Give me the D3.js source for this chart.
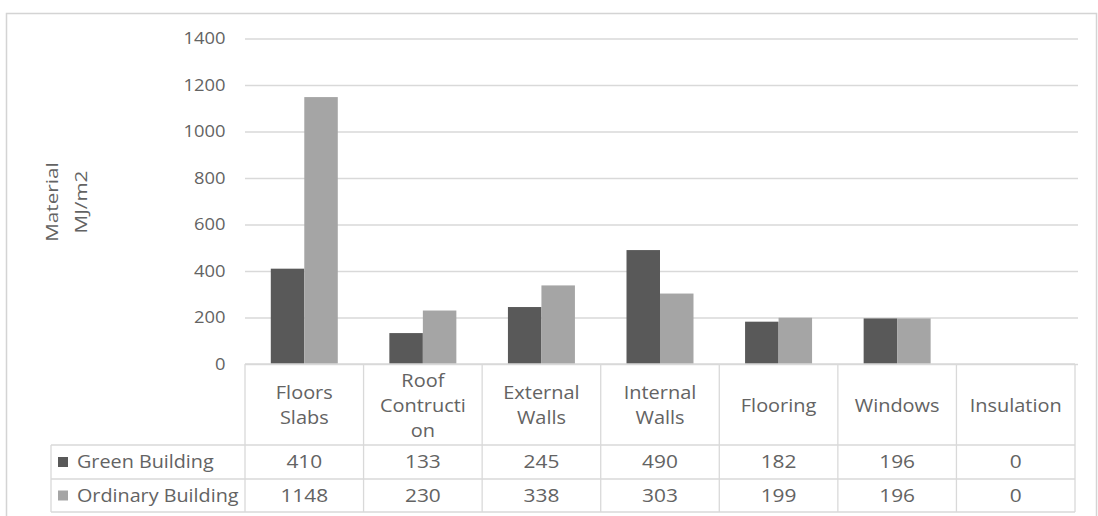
<!DOCTYPE html>
<html>
<head>
<meta charset="utf-8">
<script src="https://cdn.jsdelivr.net/npm/d3@7"></script>
<style>
  html, body { margin: 0; padding: 0; background: #fff; }
  svg { display: block; }
  text { font-family: "Open Sans", "DejaVu Sans", sans-serif; fill: #636363; }
</style>
</head>
<body>
<svg id="chart" width="1098" height="516"></svg>
<script>
// Embodied energy of building materials (MJ/m2), green vs ordinary building
const categories = ["Floors Slabs", "Roof Contruction", "External Walls", "Internal Walls", "Flooring", "Windows", "Insulation"];
const categoryLines = [["Floors", "Slabs"], ["Roof", "Contructi", "on"], ["External", "Walls"], ["Internal", "Walls"], ["Flooring"], ["Windows"], ["Insulation"]];
const seriesNames = ["Green Building", "Ordinary Building"];
const greenBuilding = [410, 133, 245, 490, 182, 196, 0];
const ordinaryBuilding = [1148, 230, 338, 303, 199, 196, 0];
const seriesColors = ["#595959", "#a5a5a5"];
const yTicks = [0, 200, 400, 600, 800, 1000, 1200, 1400];
const yTitleLines = ["Material", "MJ/m2"];

const seriesValues = [greenBuilding, ordinaryBuilding];
const svg = d3.select("#chart");
const gridColor = "#d9d9d9";
const textWiden = 1.14; // horizontal stretch of the table lettering

// Outer chart frame
svg.append("rect")
  .attr("x", 6.5).attr("y", 13.5)
  .attr("width", 1090).attr("height", 520)
  .attr("fill", "#fff").attr("stroke", "#d4d4d4").attr("stroke-width", 1.5);

const plotLeft = 245, plotRight = 1075, plotTop = 38.5, plotBottom = 364;

const x = d3.scaleBand().domain(categories).range([plotLeft, plotRight]).paddingInner(0.435).paddingOuter(0.2175);
const xCell = d3.scaleBand().domain(categories).range([plotLeft, plotRight]);
const xSeries = d3.scaleBand().domain(seriesNames).range([0, x.bandwidth()]);
const y = d3.scaleLinear().domain([0, 1400]).range([plotBottom, plotTop]);

// Horizontal gridlines with value labels
const yAxis = d3.axisLeft(y).tickValues(yTicks).tickSize(-(plotRight - plotLeft + 3)).tickPadding(18).tickFormat(d3.format("d"));
const gy = svg.append("g").attr("transform", `translate(${plotLeft},0)`).call(yAxis);
gy.select(".domain").remove();
gy.selectAll(".tick line").attr("stroke", gridColor).attr("stroke-width", 1.3);
gy.selectAll(".tick text")
  .attr("font-size", 17)
  .attr("transform", "scale(1.08,1)")
  .style("fill", "#636363").attr("font-family", null);

// Bars
const groups = svg.append("g").selectAll("g")
  .data(categories)
  .join("g")
  .attr("transform", d => `translate(${x(d)},0)`);

groups.selectAll("rect")
  .data((d, i) => seriesNames.map((s, k) => ({ s, v: seriesValues[k][i], c: seriesColors[k] })))
  .join("rect")
  .attr("x", d => xSeries(d.s))
  .attr("y", d => y(d.v))
  .attr("width", xSeries.bandwidth())
  .attr("height", d => y(0) - y(d.v))
  .attr("fill", d => d.c);

// Data table beneath the plot
const tableLeft = 51;
const headerBottom = 445, rowH = [445, 479, 512];
const table = svg.append("g").attr("stroke", gridColor).attr("stroke-width", 1.3);
table.append("line").attr("x1", plotLeft).attr("x2", plotRight).attr("y1", plotBottom).attr("y2", plotBottom);
rowH.forEach(yy => table.append("line").attr("x1", tableLeft).attr("x2", plotRight).attr("y1", yy).attr("y2", yy));
table.append("line").attr("x1", tableLeft).attr("x2", tableLeft).attr("y1", rowH[0]).attr("y2", rowH[2]);
[...categories.map(c => xCell(c)), plotRight].forEach(xx =>
  table.append("line").attr("x1", xx).attr("x2", xx).attr("y1", plotBottom).attr("y2", rowH[2]));

// Places a text at (cx, cy), stretched horizontally
function stretchedText(cx, cy, k) {
  return svg.append("g")
    .attr("transform", `translate(${cx},${cy}) scale(${k},1)`)
    .append("text");
}

// Category header cells
const headerMid = (plotBottom + headerBottom) / 2 + 1;
const lineGap = 25;
categories.forEach((c, i) => {
  const lines = categoryLines[i];
  const t = stretchedText(xCell(c) + xCell.bandwidth() / 2, headerMid, textWiden)
    .attr("text-anchor", "middle")
    .attr("font-size", 17.5);
  lines.forEach((ln, j) => {
    t.append("tspan")
      .attr("x", 0)
      .attr("y", (j - (lines.length - 1) / 2) * lineGap)
      .attr("dy", "0.35em")
      .text(ln);
  });
});

// Series rows: legend key, name and values
seriesNames.forEach((s, k) => {
  const mid = (rowH[k] + rowH[k + 1]) / 2;
  svg.append("rect")
    .attr("x", 58).attr("y", mid - 5)
    .attr("width", 10).attr("height", 10)
    .attr("fill", seriesColors[k]);
  stretchedText(77, mid, 1.13)
    .attr("dy", "0.35em")
    .attr("font-size", 17.5)
    .text(s);
  categories.forEach((c, i) => {
    stretchedText(xCell(c) + xCell.bandwidth() / 2, mid, 1.16)
      .attr("dy", "0.35em")
      .attr("text-anchor", "middle")
      .attr("font-size", 18)
      .text(seriesValues[k][i]);
  });
});

// Vertical axis title
const title = svg.append("text")
  .attr("transform", "translate(67,202) rotate(-90) scale(1.22,1)")
  .attr("text-anchor", "middle")
  .attr("font-size", 17);
yTitleLines.forEach((ln, j) => {
  title.append("tspan")
    .attr("x", 0)
    .attr("y", (j - 0.5) * 29)
    .attr("dy", "0.35em")
    .text(ln);
});
</script>
</body>
</html>
